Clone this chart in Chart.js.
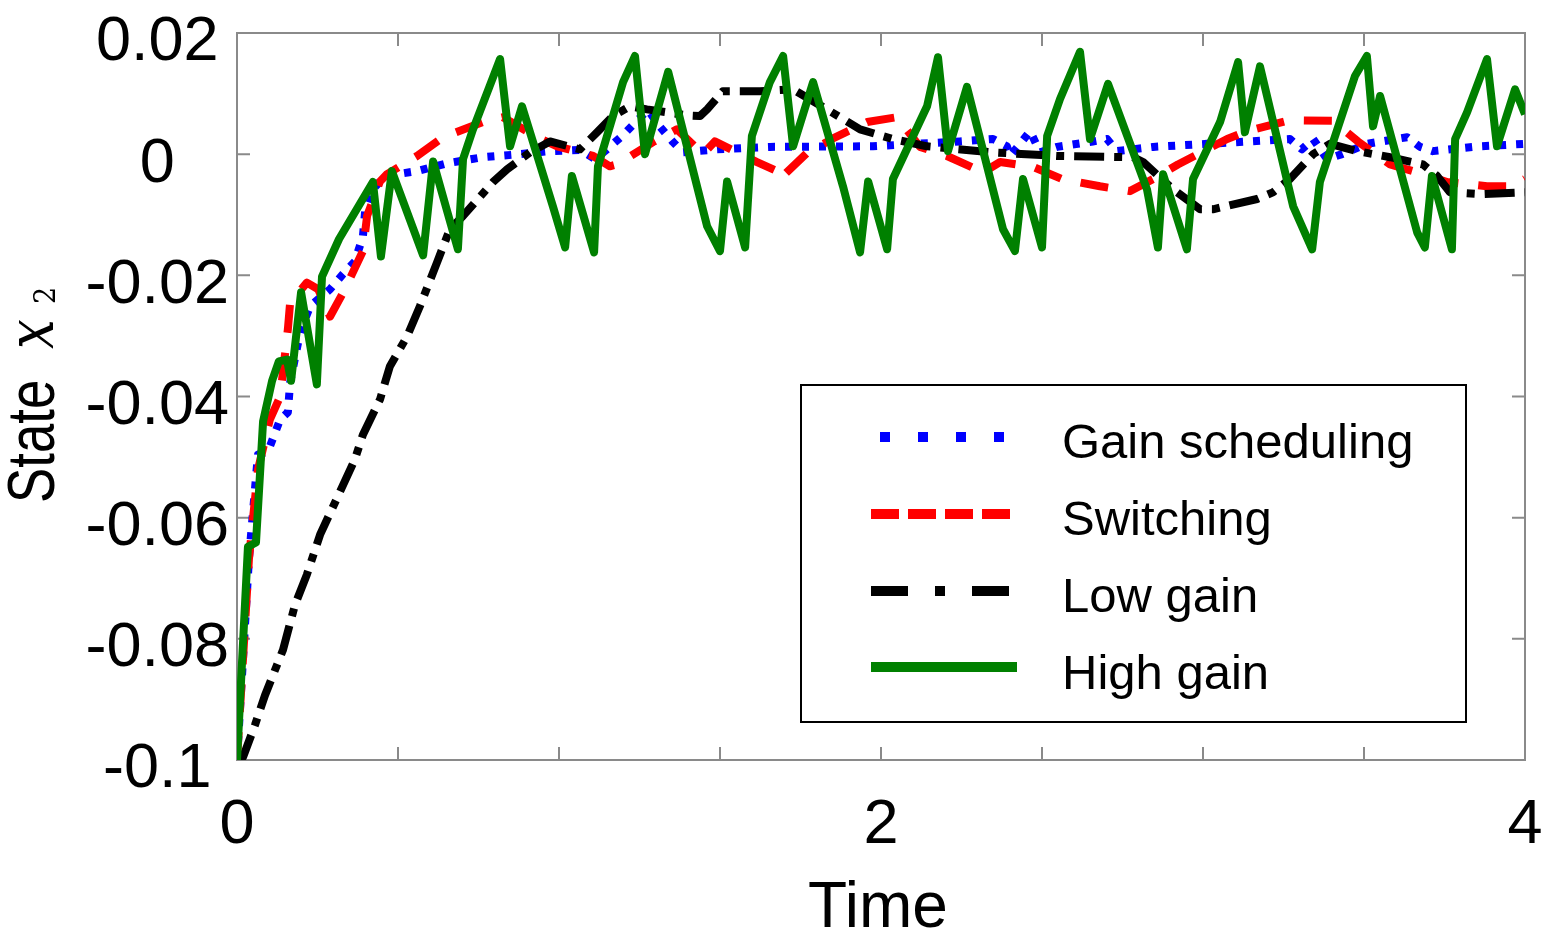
<!DOCTYPE html>
<html><head><meta charset="utf-8">
<script src="https://cdn.jsdelivr.net/npm/chart.js@4.4.0/dist/chart.umd.min.js"></script>
<style>html,body{margin:0;padding:0;background:#fff;}canvas{display:block;}</style>
</head><body>
<canvas id="c" width="1550" height="944"></canvas>
<script>
// ---- data (time, state x2) ----
const tGain=[0,0.037,0.065,0.096,0.134,0.158,0.165,0.196,0.227,0.289,0.329,0.366,0.391,0.398,0.422,0.460,0.559,0.652,0.764,0.879,0.972,1.065,1.112,1.149,1.196,1.242,1.276,1.314,1.354,1.385,1.491,1.655,1.975,2.245,2.348,2.391,2.401,2.432,2.463,2.494,2.547,2.658,2.702,2.733,2.845,3.012,3.270,3.307,3.342,3.385,3.432,3.509,3.634,3.674,3.714,3.860,4.0];
const xGain=[-0.1,-0.0669,-0.0496,-0.0491,-0.0438,-0.0426,-0.0377,-0.0294,-0.0251,-0.0223,-0.0198,-0.0177,-0.0136,-0.0094,-0.0058,-0.0036,-0.0028,-0.0015,-0.0005,0,0.0005,0.0007,-0.0008,0.0008,0.0030,0.0055,0.0073,0.0045,0.0020,0.0003,0.0008,0.0012,0.0013,0.0021,0.0025,0.0013,-0.0003,0.0017,0.0038,0.0003,0.0012,0.0021,0.0025,0.0005,0.0012,0.0017,0.0025,0.0008,0.0025,-0.0008,0,0.0017,0.0028,0.0012,0.0005,0.0013,0.0017];

const tSwitch=[0,0.037,0.065,0.102,0.134,0.158,0.165,0.217,0.252,0.289,0.335,0.391,0.404,0.444,0.466,0.559,0.640,0.764,0.826,0.932,0.994,1.106,1.158,1.180,1.292,1.366,1.447,1.484,1.615,1.677,1.686,1.770,1.851,1.957,2.050,2.121,2.205,2.317,2.370,2.472,2.562,2.680,2.773,2.845,2.922,3.075,3.137,3.270,3.404,3.481,3.581,3.665,3.758,3.882,3.963,4.0];
const xSwitch=[-0.1,-0.0669,-0.0521,-0.0438,-0.0400,-0.0289,-0.0245,-0.0212,-0.0223,-0.0268,-0.0223,-0.0160,-0.0102,-0.0045,-0.0033,-0.0003,0.0028,0.0053,0.0061,0.0028,0.0013,-0.0003,-0.0020,-0.0017,0.0020,0.0041,0,0.0021,-0.0013,-0.0028,-0.0041,0.0002,0.0026,0.0053,0.0061,0.0012,-0.0003,-0.0030,-0.0013,-0.0021,-0.0041,-0.0053,-0.0061,-0.0041,-0.0017,0.0025,0.0038,0.0056,0.0055,0.0021,-0.0017,-0.0030,-0.0046,-0.0053,-0.0053,-0.0041];

const tLow=[0,0.019,0.056,0.087,0.143,0.180,0.217,0.258,0.320,0.366,0.391,0.444,0.475,0.528,0.568,0.621,0.661,0.702,0.795,0.839,0.910,0.972,1.065,1.118,1.168,1.220,1.273,1.398,1.438,1.460,1.509,1.624,1.727,1.832,1.935,2.037,2.143,2.348,2.547,2.783,2.814,2.907,2.991,3.031,3.168,3.217,3.270,3.342,3.394,3.478,3.581,3.683,3.727,3.767,3.860,4.0];
const xLow=[-0.1,-0.0995,-0.0942,-0.0893,-0.0818,-0.0744,-0.0694,-0.0628,-0.0557,-0.0504,-0.0463,-0.0405,-0.0350,-0.0301,-0.0251,-0.0179,-0.0124,-0.0102,-0.0046,-0.0025,0.0003,0.0021,0.0008,0.0036,0.0063,0.0079,0.0074,0.0064,0.0063,0.0074,0.0104,0.0104,0.0107,0.0074,0.0041,0.0025,0.0013,0.0003,-0.0003,-0.0005,-0.0013,-0.0058,-0.0091,-0.0091,-0.0074,-0.0063,-0.0041,0,0.0017,0.0005,-0.0005,-0.0017,-0.0036,-0.0063,-0.0066,-0.0063];

const tHigh=[0,0.034,0.059,0.081,0.109,0.130,0.155,0.168,0.199,0.248,0.264,0.317,0.422,0.447,0.481,0.578,0.609,0.686,0.702,0.733,0.817,0.848,0.885,0.981,1.019,1.040,1.109,1.121,1.199,1.236,1.267,1.339,1.460,1.500,1.522,1.578,1.599,1.655,1.696,1.727,1.789,1.882,1.935,1.960,2.019,2.037,2.143,2.177,2.208,2.267,2.379,2.416,2.441,2.500,2.516,2.556,2.618,2.649,2.705,2.826,2.860,2.876,2.950,2.969,3.053,3.109,3.130,3.177,3.280,3.339,3.363,3.472,3.509,3.528,3.550,3.665,3.689,3.711,3.773,3.783,3.820,3.882,3.913,3.969,4.0];
const xHigh=[-0.1,-0.0648,-0.0641,-0.0441,-0.0374,-0.0342,-0.0339,-0.0374,-0.0228,-0.0380,-0.0202,-0.0140,-0.0046,-0.0169,-0.0028,-0.0167,-0.0012,-0.0157,-0.0008,0.0041,0.0157,0.0013,0.0079,-0.0086,-0.0154,-0.0036,-0.0162,-0.0020,0.0119,0.0162,0.0,0.0136,-0.0119,-0.0160,-0.0045,-0.0154,0.0030,0.0119,0.0162,0.0013,0.0119,-0.0053,-0.0162,-0.0045,-0.0157,-0.0041,0.0079,0.0160,0.0005,0.0111,-0.0124,-0.0160,-0.0041,-0.0154,0.0030,0.0091,0.0169,0.0025,0.0116,-0.0058,-0.0154,-0.0033,-0.0157,-0.0041,0.0053,0.0152,0.0036,0.0145,-0.0086,-0.0157,-0.0046,0.0129,0.0162,0.0046,0.0096,-0.0129,-0.0154,-0.0036,-0.0157,0.0025,0.0069,0.0157,0.0013,0.0107,0.0066];

const seriesLabels=['Gain scheduling','Switching','Low gain','High gain'];
const xTickValues=[0,0.5,1,1.5,2,2.5,3,3.5,4];
const xTickLabels=['0','','','','2','','','','4'];
const yTickValues=[-0.1,-0.08,-0.06,-0.04,-0.02,0,0.02];
const yTickLabels=['-0.1','-0.08','-0.06','-0.04','-0.02','0','0.02'];

function pts(t,v){const n=Math.min(t.length,v.length);const a=[];for(let i=0;i<n;i++)a.push({x:t[i],y:v[i]});return a;}

const FONT='"Liberation Sans", Arial, sans-serif';
const AX='#8a8a8a';

const decor={
  id:'decor',
  beforeDatasetsDraw(chart){
    const {ctx,chartArea:a,scales:{x,y}}=chart;
    ctx.save();
    ctx.strokeStyle=AX;ctx.lineWidth=2;
    ctx.strokeRect(a.left,a.top,a.right-a.left,a.bottom-a.top);
    const L=13;
    ctx.beginPath();
    xTickValues.forEach(v=>{const p=x.getPixelForValue(v);ctx.moveTo(p,a.bottom);ctx.lineTo(p,a.bottom-L);ctx.moveTo(p,a.top);ctx.lineTo(p,a.top+L);});
    yTickValues.forEach(v=>{const p=y.getPixelForValue(v);ctx.moveTo(a.left,p);ctx.lineTo(a.left+L,p);ctx.moveTo(a.right,p);ctx.lineTo(a.right-L,p);});
    ctx.stroke();
    ctx.restore();
  },
  afterDraw(chart){
    const {ctx,chartArea:a}=chart;
    ctx.save();
    // x title
    ctx.fillStyle='#000';
    ctx.font='64px '+FONT;
    ctx.textAlign='center';ctx.textBaseline='alphabetic';
    ctx.fillText('Time',(a.left+a.right)/2-3,927);
    // y title: State x_2
    ctx.save();
    ctx.translate(54,503);
    ctx.rotate(-Math.PI/2);
    ctx.textAlign='left';
    ctx.save();ctx.scale(0.8,1);ctx.font='66px '+FONT;ctx.fillText('State',0,0);ctx.restore();
    ctx.save();ctx.translate(154,-1);ctx.scale(0.8,1);ctx.font='italic 66px "DejaVu Serif", serif';ctx.fillText('x',0,0);ctx.restore();
    ctx.save();ctx.translate(199,1);ctx.scale(0.9,1);ctx.font='30px "DejaVu Serif", serif';ctx.fillText('2',0,0);ctx.restore();
    ctx.restore();
    // legend
    const bx=801,by=385,bw=665,bh=337;
    ctx.fillStyle='#fff';ctx.fillRect(bx,by,bw,bh);
    ctx.strokeStyle='#000';ctx.lineWidth=2;ctx.strokeRect(bx,by,bw,bh);
    const rows=[437,514,591,667];
    const base=[458,535,612,689];
    const ds=chart.data.datasets;
    seriesLabels.forEach((lab,i)=>{
      const d=ds.find(q=>q.label===lab);
      ctx.save();
      ctx.strokeStyle=d.borderColor;ctx.lineWidth=10;ctx.lineCap='butt';
      ctx.setLineDash(d.legendDash||[]);
      ctx.beginPath();ctx.moveTo(d.legendStart,rows[i]);ctx.lineTo(d.legendEnd,rows[i]);ctx.stroke();
      ctx.restore();
      ctx.fillStyle='#000';ctx.font='49px '+FONT;ctx.textAlign='left';ctx.textBaseline='alphabetic';
      ctx.fillText(lab,1062,base[i]);
    });
    ctx.restore();
  }
};

new Chart(document.getElementById('c'),{
  type:'line',
  data:{datasets:[
    {label:seriesLabels[3],data:pts(tHigh,xHigh),borderColor:'#008000',borderWidth:8,order:0,legendDash:[],legendStart:871,legendEnd:1017},
    {label:seriesLabels[2],data:pts(tLow,xLow),borderColor:'#000000',borderWidth:8,borderDash:[30,10,8,10],order:1,legendDash:[37,27,10,27],legendStart:871,legendEnd:1010},
    {label:seriesLabels[1],data:pts(tSwitch,xSwitch),borderColor:'#ff0000',borderWidth:8,borderDash:[28,20],order:2,legendDash:[28,9],legendStart:871,legendEnd:1011},
    {label:seriesLabels[0],data:pts(tGain,xGain),borderColor:'#0000ff',borderWidth:8,borderDash:[7,10],order:3,legendDash:[10,28],legendStart:880,legendEnd:1005}
  ]},
  options:{
    responsive:false,animation:false,devicePixelRatio:1,
    layout:{padding:{left:0,top:33,right:25,bottom:0}},
    elements:{point:{radius:0},line:{tension:0,borderJoinStyle:'round',borderCapStyle:'butt',fill:false}},
    plugins:{legend:{display:false},tooltip:{enabled:false}},
    scales:{
      x:{type:'linear',min:0,max:4,
        grid:{display:false,drawTicks:false},border:{display:false},
        afterBuildTicks:s=>{s.ticks=xTickValues.map(v=>({value:v}));},
        ticks:{autoSkip:false,maxRotation:0,padding:28,color:'#000',font:{size:63,family:FONT},
          callback:(v,i)=>xTickLabels[i]},
        afterFit:s=>{s.height=184;s.paddingLeft=0;s.paddingRight=0;}
      },
      y:{type:'linear',min:-0.1,max:0.02,
        grid:{display:false,drawTicks:false},border:{display:false},
        afterBuildTicks:s=>{s.ticks=yTickValues.map(v=>({value:v}));},
        ticks:{autoSkip:false,crossAlign:'center',padding:8,labelOffset:10,color:'#000',font:{size:63,family:FONT},
          callback:(v,i)=>yTickLabels[i]},
        afterFit:s=>{s.width=237;s.paddingTop=0;s.paddingBottom=0;}
      }
    }
  },
  plugins:[decor]
});
</script>
</body></html>
